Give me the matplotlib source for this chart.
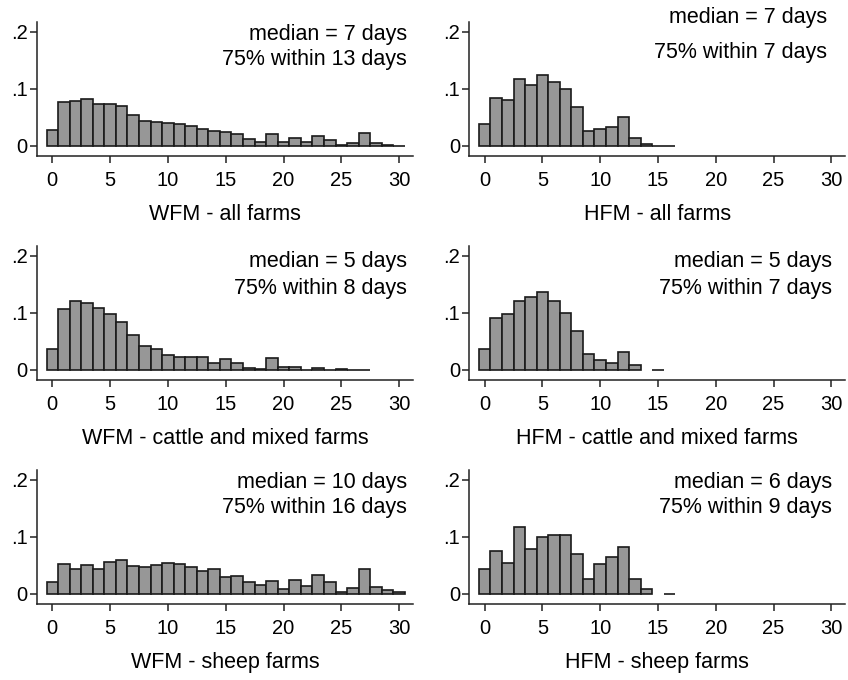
import matplotlib
matplotlib.use('Agg')
import matplotlib.pyplot as plt
import numpy as np

plt.rcParams['font.family'] = ['Liberation Sans', 'DejaVu Sans']

# density per day (bins centred on whole days), None = no bar
wfm_all = [0.028, 0.0766, 0.079, 0.0825, 0.0737, 0.0737, 0.0696, 0.0544, 0.0444, 0.042,
           0.041, 0.0386, 0.035, 0.0304, 0.027, 0.0246, 0.0216, 0.0117, 0.007, 0.021,
           0.0076, 0.0146, 0.007, 0.0175, 0.0105, 0.002, 0.0047, 0.022, 0.005, 0.0023, 0.0]
hfm_all = [0.0386, 0.0836, 0.0807, 0.1175, 0.107, 0.1234, 0.1123, 0.1006, 0.069, 0.0257,
           0.0304, 0.0327, 0.0503, 0.014, 0.003, 0.0, 0.0]
wfm_cattle = [0.036, 0.107, 0.1205, 0.1175, 0.108, 0.0977, 0.0836, 0.0614, 0.0415, 0.036,
              0.027, 0.022, 0.022, 0.022, 0.0117, 0.0199, 0.0117, 0.0035, 0.0018, 0.0205,
              0.0047, 0.0047, 0.0, 0.0035, 0.0, 0.002, 0.0, 0.0]
hfm_cattle = [0.036, 0.0906, 0.0988, 0.1205, 0.127, 0.137, 0.1205, 0.1006, 0.069, 0.0287,
              0.018, 0.0129, 0.0316, 0.0094, None, 0.0]
wfm_sheep = [0.0216, 0.052, 0.0433, 0.0509, 0.0439, 0.0556, 0.059, 0.0491, 0.0468, 0.0509,
             0.0544, 0.0526, 0.0468, 0.0404, 0.0433, 0.0298, 0.0316, 0.0216, 0.0158, 0.0228,
             0.0094, 0.0246, 0.014, 0.0333, 0.0216, 0.004, 0.0099, 0.0444, 0.0123, 0.0076, 0.0035]
hfm_sheep = [0.0439, 0.0754, 0.055, 0.1164, 0.0784, 0.1006, 0.104, 0.104, 0.0708, 0.0263,
             0.0526, 0.0643, 0.083, 0.0257, 0.0082, None, 0.0]

titles = ['WFM - all farms', 'HFM - all farms',
          'WFM - cattle and mixed farms', 'HFM - cattle and mixed farms',
          'WFM - sheep farms', 'HFM - sheep farms']
medians = [7, 7, 5, 5, 10, 6]
within75 = [13, 7, 8, 7, 16, 9]
series = [wfm_all, hfm_all, wfm_cattle, hfm_cattle, wfm_sheep, hfm_sheep]

# text placement (axes fraction) per panel
txt_x = [0.984, 0.952, 0.984, 0.965, 0.984, 0.965]
txt_y = [(0.908, 0.715), (1.028, 0.774), (0.879, 0.685), (0.879, 0.685),
         (0.908, 0.715), (0.908, 0.715)]

W, H = 848, 680
fig = plt.figure(figsize=(W / 100, H / 100), dpi=100)

for i in range(6):
    row, col = i // 2, i % 2
    left = 36.7 if col == 0 else 469
    top = 21.7 + 224 * row
    ax = fig.add_axes([left / W, 1 - (top + 134.3) / H, 376.3 / W, 134.3 / H])

    vals = series[i]
    days = [d for d, v in enumerate(vals) if v is not None]
    h = [v for v in vals if v is not None]
    ax.bar(days, h, width=1.0, color='#979797', edgecolor='#1a1a1a', linewidth=1.2)

    ax.set_xlim(-1.35, 31.2)
    ax.set_ylim(-0.0175, 0.2175)
    ax.set_xticks(np.arange(0, 31, 5))
    ax.set_yticks([0, 0.1, 0.2])
    ax.set_yticklabels(['0', '.1', '.2'])
    for s in ['top', 'right']:
        ax.spines[s].set_visible(False)
    for s in ['left', 'bottom']:
        ax.spines[s].set_linewidth(1.1)
        ax.spines[s].set_color('#222222')
    ax.tick_params(axis='both', length=5, width=1.1, color='#222222', labelsize=14.5)
    ax.tick_params(axis='x', pad=6)
    ax.tick_params(axis='y', pad=1.5)
    ax.set_xlabel(titles[i], fontsize=15.5, labelpad=10)

    ax.text(txt_x[i], txt_y[i][0], 'median = %d days' % medians[i], transform=ax.transAxes,
            ha='right', va='center', fontsize=15.5)
    ax.text(txt_x[i], txt_y[i][1], '75%% within %d days' % within75[i], transform=ax.transAxes,
            ha='right', va='center', fontsize=15.5)

fig.savefig('out.png', dpi=100)
